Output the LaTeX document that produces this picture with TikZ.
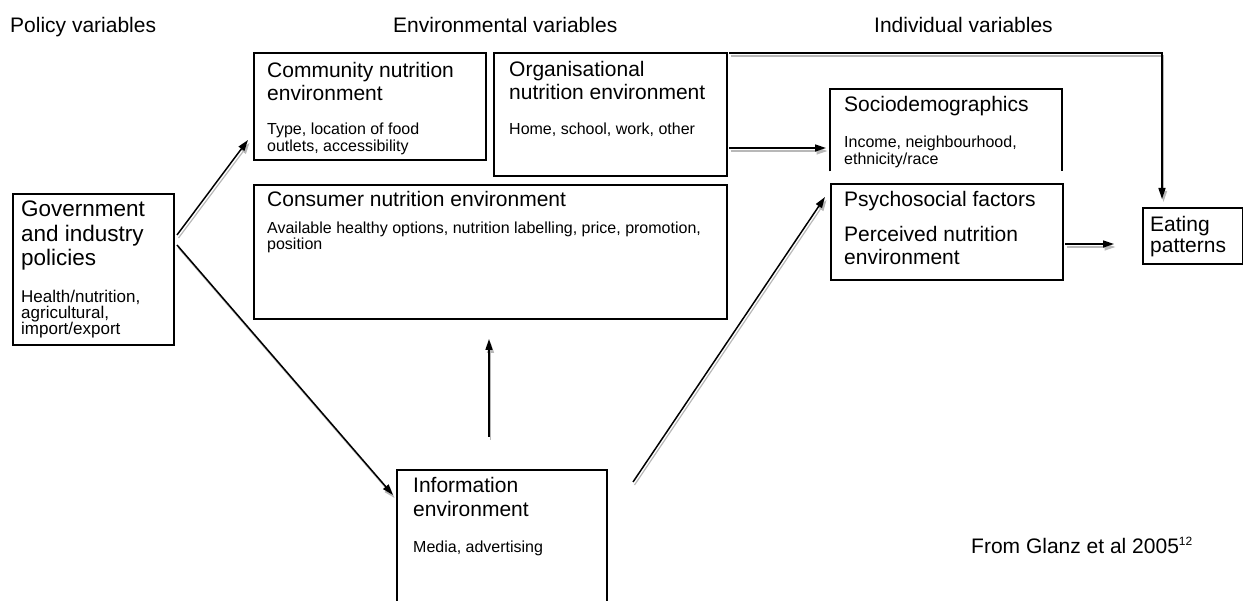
\documentclass[tikz,border=0pt]{standalone}
\usepackage{fontspec}
\setmainfont{Liberation Sans}
\usetikzlibrary{arrows.meta}
\begin{document}
\begin{tikzpicture}[x=1pt,y=-1pt,
  boxn/.style={draw, line width=2pt, rectangle, inner sep=0pt, anchor=north west},
  openbox/.style={draw=none, rectangle, inner sep=0pt, anchor=north west},
  hdr/.style={font=\fontsize{21}{24}\selectfont, inner sep=0pt, anchor=base west},
  ttl/.style={font=\fontsize{21}{24}\selectfont, inner sep=0pt, anchor=base west},
  sub/.style={font=\fontsize{16}{18}\selectfont, inner sep=0pt, anchor=base west},
  gttl/.style={font=\fontsize{22.5}{25}\selectfont, inner sep=0pt, anchor=base west},
  gsub/.style={font=\fontsize{17}{19}\selectfont, inner sep=0pt, anchor=base west},
  tip/.tip={Triangle[length=11pt,width=7pt]},
  conn/.style={line width=1.5pt, -tip},
  shad/.style={line width=1.2pt, draw=black!28, -tip, transform canvas={shift={(1.5pt,-3pt)}}},
]
\useasboundingbox (0,0) rectangle (1243,601);

% headers
\node[hdr] (h1) at (10,33) {Policy variables};
\node[hdr] (h2) at (393,33) {Environmental variables};
\node[hdr] (h3) at (874,33) {Individual variables};

% boxes
\node[boxn, minimum width=232pt, minimum height=107pt] (comm) at (253,52) {};
\node[boxn, minimum width=233pt, minimum height=123pt] (org) at (493,52) {};
\node[boxn, minimum width=473pt, minimum height=134pt] (cons) at (253,184) {};
\node[boxn, minimum width=161pt, minimum height=151pt] (gov) at (12,193) {};
\node[openbox, minimum width=232pt, minimum height=82pt] (soc) at (830,89) {};
\draw[line width=2pt] (soc.south west) -- (soc.north west) -- (soc.north east) -- (soc.south east);
\node[boxn, minimum width=232pt, minimum height=96pt] (psy) at (830,183) {};
\node[boxn, minimum width=100pt, minimum height=56pt] (eat) at (1142,207) {};
\node[openbox, minimum width=210pt, minimum height=134pt] (info) at (397,470) {};
\draw[line width=2pt] (info.south west) -- (info.north west) -- (info.north east) -- (info.south east);

% texts: community
\node[ttl] (t1) at (267,78) {Community nutrition};
\node[ttl] (t2) at (267,101) {environment};
\node[sub] (t3) at (267,135) {Type, location of food};
\node[sub] (t4) at (267,152) {outlets, accessibility};
% organisational
\node[ttl] (t5) at (509,77) {Organisational};
\node[ttl] (t6) at (509,100) {nutrition environment};
\node[sub] (t7) at (509,135) {Home, school, work, other};
% consumer
\node[ttl] (t8) at (267,207) {Consumer nutrition environment};
\node[sub] (t9) at (267,234) {Available healthy options, nutrition labelling, price, promotion,};
\node[sub] (t10) at (267,250) {position};
% government
\node[gttl] (t11) at (21,217) {Government};
\node[gttl] (t12) at (21,242) {and industry};
\node[gttl] (t13) at (21,266) {policies};
\node[gsub] (t14) at (21,303) {Health/nutrition,};
\node[gsub] (t15) at (21,319) {agricultural,};
\node[gsub] (t16) at (21,335) {import/export};
% sociodemographics
\node[ttl] (t17) at (844,112) {Sociodemographics};
\node[sub] (t18) at (844,148) {Income, neighbourhood,};
\node[sub] (t19) at (844,165) {ethnicity/race};
% psychosocial
\node[ttl] (t20) at (844,207) {Psychosocial factors};
\node[ttl] (t21) at (844,242) {Perceived nutrition};
\node[ttl] (t22) at (844,265) {environment};
% eating
\node[ttl] (t23) at (1150,232) {Eating};
\node[ttl] (t24) at (1150,253) {patterns};
% information
\node[ttl] (t25) at (413,493) {Information};
\node[ttl] (t26) at (413,516) {environment};
\node[sub] (t27) at (413,552) {Media, advertising};
% source
\node[hdr] (src) at (971,553) {From Glanz et al 2005\raisebox{8pt}{\fontsize{12}{12}\selectfont 12}};

% connector end points
\coordinate (govA) at (177,235); \coordinate (commIn) at (248,140);
\coordinate (govB) at (177,245); \coordinate (infoIn) at (393,495);
\coordinate (infoA) at (489,437); \coordinate (consIn) at (489,339);
\coordinate (infoB) at (633,482); \coordinate (psyIn) at (825,197);
\coordinate (orgA) at (729,148); \coordinate (socIn) at (826,148);
\coordinate (psyA) at (1065,244); \coordinate (eatIn) at (1114,244);
\coordinate (orgB) at (729,53); \coordinate (corner) at (1162,53); \coordinate (eatTop) at (1162,199);

% shadows
\draw[shad] (govA) -- (commIn);
\draw[shad] (govB) -- (infoIn);
\draw[shad] (infoA) -- (consIn);
\draw[shad] (infoB) -- (psyIn);
\draw[shad] (orgA) -- (socIn);
\draw[shad] (psyA) -- (eatIn);
\draw[shad] (orgB) -- (corner) -- (eatTop);

% connectors
\draw[conn] (govA) -- (commIn);
\draw[conn] (govB) -- (infoIn);
\draw[conn] (infoA) -- (consIn);
\draw[conn] (infoB) -- (psyIn);
\draw[conn] (orgA) -- (socIn);
\draw[conn] (psyA) -- (eatIn);
\draw[conn] (orgB) -- (corner) -- (eatTop);
\end{tikzpicture}
\end{document}
